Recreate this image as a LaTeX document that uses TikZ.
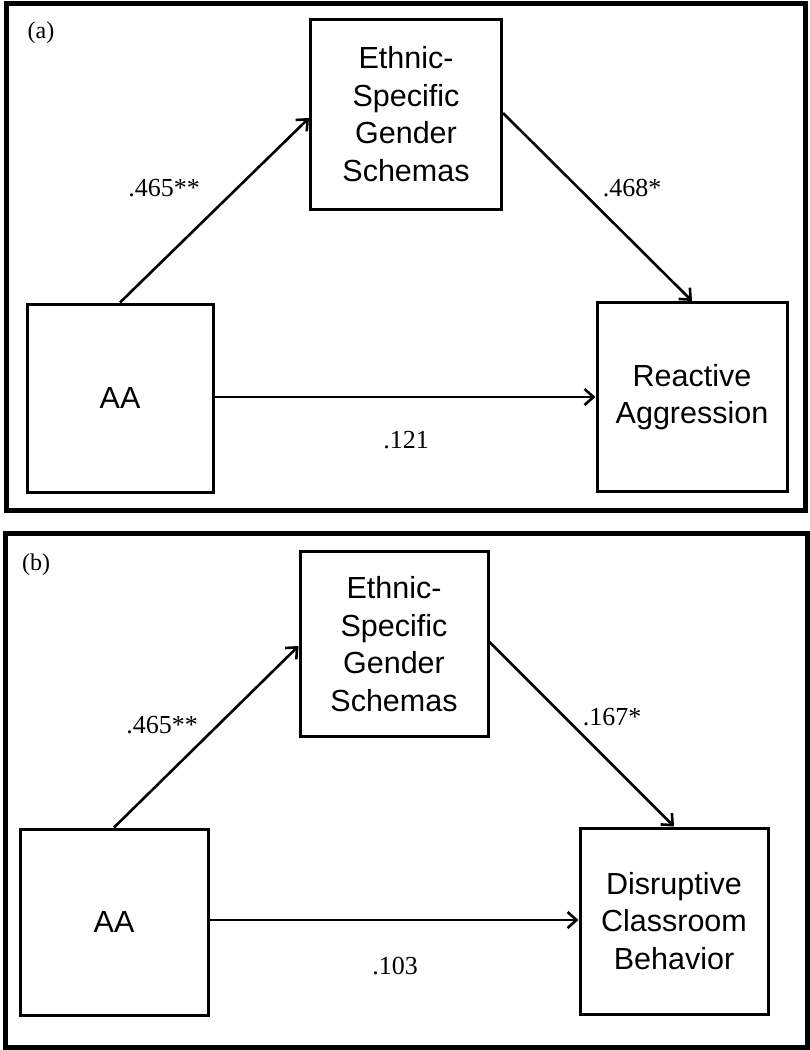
\documentclass[tikz,border=0pt]{standalone}
\usepackage{fontspec}
\setmainfont{Liberation Serif}
\setsansfont{Liberation Sans}
\usetikzlibrary{arrows.meta}
\begin{document}
\begin{tikzpicture}[x=1pt,y=-1pt,
  frame/.style={line width=5pt},
  varbox/.style={draw,line width=3pt,inner sep=0pt,align=center,font=\sffamily\fontsize{30.5}{37.5}\selectfont},
  path/.style={line width=2.6pt,-{Straight Barb[length=9pt,width=16pt,line width=2.6pt]}},
  coef/.style={font=\fontsize{26}{30}\selectfont},
  panel/.style={font=\fontsize{24}{28}\selectfont}]
\useasboundingbox (0,0) rectangle (810,1050);
\fill[white] (0,0) rectangle (810,1050);
% panel (a)
\draw[frame] (6,3) rectangle (805,510);
\node[panel] (la) at (41,33) {(a)};
\node[varbox,minimum width=191pt,minimum height=190pt] (esga) at (406,114) {Ethnic-\\Specific\\Gender\\Schemas};
\node[varbox,minimum width=186pt,minimum height=188pt] (aaa) at (120,398) {AA};
\node[varbox,minimum width=190pt,minimum height=189pt] (raa) at (692,397) {Reactive\\Aggression};
\draw[path] (aaa.north) -- (esga.west |- 0,118);
\draw[path] (esga.east |- 0,113) -- (raa.north);
\draw[path] (aaa.east |- 0,397) -- (raa.west |- 0,397);
\node[coef] (ca1) at (164,188) {.465**};
\node[coef] (ca2) at (632,188) {.468*};
\node[coef] (ca3) at (406,440) {.121};
% panel (b)
\draw[frame] (5,533) rectangle (807,1047);
\node[panel] (lb) at (36,565) {(b)};
\node[varbox,minimum width=188pt,minimum height=185pt] (esgb) at (394,644) {Ethnic-\\Specific\\Gender\\Schemas};
\node[varbox,minimum width=188pt,minimum height=186pt] (aab) at (114,922) {AA};
\node[varbox,minimum width=188pt,minimum height=186pt] (dcb) at (674,921) {Disruptive\\Classroom\\Behavior};
\draw[path] (aab.north) -- (esgb.west |- 0,646);
\draw[path] (esgb.east |- 0,642) -- (dcb.north);
\draw[path] (aab.east |- 0,920) -- (dcb.west |- 0,920);
\node[coef] (cb1) at (162,725) {.465**};
\node[coef] (cb2) at (612,717) {.167*};
\node[coef] (cb3) at (395,966) {.103};
\end{tikzpicture}
\end{document}
